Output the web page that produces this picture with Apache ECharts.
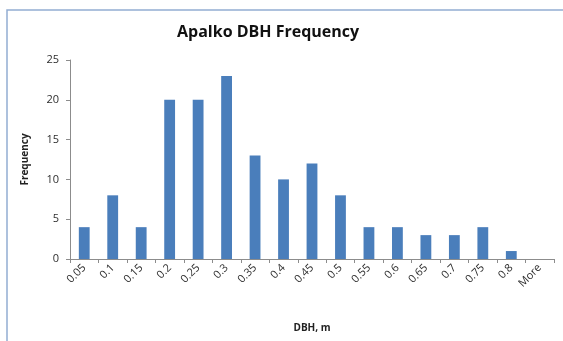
<!DOCTYPE html>
<html>
<head>
<meta charset="utf-8">
<script src="https://cdn.jsdelivr.net/npm/echarts@6/dist/echarts.min.js"></script>
<style>
  html, body { margin: 0; padding: 0; background: #fff; }
  #chart { width: 563px; height: 341px; }
</style>
</head>
<body>
<div id="chart"></div>
<script>
// DBH bins (m) and tree counts per bin
const categories = ['0.05', '0.1', '0.15', '0.2', '0.25', '0.3', '0.35', '0.4', '0.45', '0.5', '0.55', '0.6', '0.65', '0.7', '0.75', '0.8', 'More'];
const frequency = [4, 8, 4, 20, 20, 23, 13, 10, 12, 8, 4, 4, 3, 3, 4, 1, 0];
const yTicks = { min: 0, max: 25, interval: 5 };

const font = '"Open Sans", "Liberation Sans", sans-serif';
const chart = echarts.init(document.getElementById('chart'), null, { renderer: 'canvas' });

chart.setOption({
  animation: false,
  backgroundColor: '#ffffff',
  graphic: [{
    type: 'rect',
    shape: { x: 7, y: 10, width: 600, height: 400 },
    style: { fill: 'none', stroke: '#93add2', lineWidth: 1.5 },
    silent: true
  }],
  title: {
    text: 'Apalko DBH Frequency',
    left: 172,
    top: 19,
    textStyle: { fontFamily: font, fontSize: 16, fontWeight: 'bold', color: '#111' }
  },
  grid: { left: 70, right: 9, top: 60, bottom: 82, containLabel: false },
  xAxis: {
    type: 'category',
    data: categories,
    name: 'DBH, m',
    nameLocation: 'middle',
    nameGap: 64,
    nameTextStyle: { fontFamily: font, fontSize: 10, fontWeight: 'bold', color: '#222' },
    axisLine: { lineStyle: { color: '#8c8c8c', width: 1 } },
    axisTick: { show: true, alignWithLabel: false, length: 4, lineStyle: { color: '#8c8c8c' } },
    axisLabel: { rotate: 45, fontFamily: font, fontSize: 11, color: '#2e2e2e', margin: 7, interval: 0 },
    splitLine: { show: false }
  },
  yAxis: {
    type: 'value',
    min: yTicks.min,
    max: yTicks.max,
    interval: yTicks.interval,
    name: 'Frequency',
    nameLocation: 'middle',
    nameGap: 40,
    nameRotate: 90,
    nameTextStyle: { fontFamily: font, fontSize: 10, fontWeight: 'bold', color: '#222' },
    axisLine: { show: true, lineStyle: { color: '#8c8c8c', width: 1 } },
    axisTick: { show: true, length: 4, lineStyle: { color: '#8c8c8c' } },
    axisLabel: { fontFamily: font, fontSize: 11, color: '#2e2e2e', margin: 11 },
    splitLine: { show: false }
  },
  series: [{
    type: 'bar',
    data: frequency,
    barWidth: '38%',
    itemStyle: { color: '#4a7ebb', borderWidth: 0 }
  }]
});
</script>
</body>
</html>
